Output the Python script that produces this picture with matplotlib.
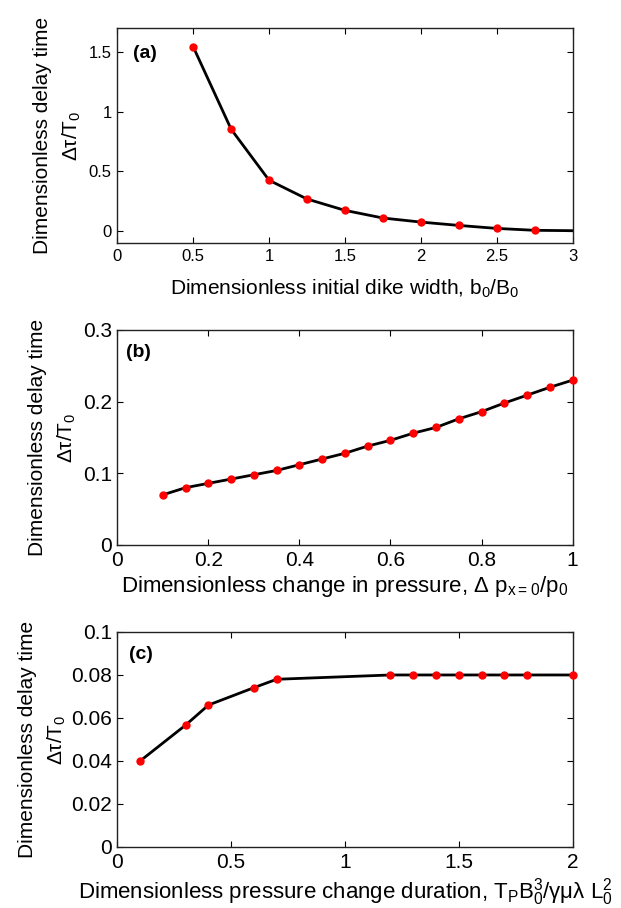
import matplotlib
matplotlib.use("Agg")
import matplotlib.pyplot as plt
import matplotlib.transforms as mtransforms

plt.rcParams['font.family'] = ['Liberation Sans', 'DejaVu Sans']
plt.rcParams['mathtext.default'] = 'regular'

# panel (a): delay time vs initial dike width
a_x = [0.5, 0.75, 1.0, 1.25, 1.5, 1.75, 2.0, 2.25, 2.5, 2.75, 3.0]
a_y = [1.542, 0.852, 0.425, 0.268, 0.173, 0.109, 0.075, 0.047, 0.022, 0.006, 0.003]
a_xticks = [0, 0.5, 1, 1.5, 2, 2.5, 3]
a_xlabels = ['0', '0.5', '1', '1.5', '2', '2.5', '3']
a_yticks = [0, 0.5, 1, 1.5]
a_ylabels = ['0', '0.5', '1', '1.5']

# panel (b): delay time vs change in pressure
b_x = [0.1, 0.15, 0.2, 0.25, 0.3, 0.35, 0.4, 0.45, 0.5, 0.55,
       0.6, 0.65, 0.7, 0.75, 0.8, 0.85, 0.9, 0.95, 1.0]
b_y = [0.070, 0.080, 0.086, 0.092, 0.098, 0.104, 0.112, 0.120, 0.128, 0.138,
       0.146, 0.156, 0.164, 0.176, 0.186, 0.198, 0.209, 0.220, 0.230]
b_xticks = [0, 0.2, 0.4, 0.6, 0.8, 1]
b_xlabels = ['0', '0.2', '0.4', '0.6', '0.8', '1']
b_yticks = [0, 0.1, 0.2, 0.3]
b_ylabels = ['0', '0.1', '0.2', '0.3']

# panel (c): delay time vs pressure change duration
c_x = [0.1, 0.3, 0.4, 0.6, 0.7, 1.2, 1.3, 1.4, 1.5, 1.6, 1.7, 1.8, 2.0]
c_y = [0.040, 0.0567, 0.066, 0.0741, 0.078, 0.080, 0.080, 0.080, 0.080,
       0.080, 0.080, 0.080, 0.080]
c_xticks = [0, 0.5, 1, 1.5, 2]
c_xlabels = ['0', '0.5', '1', '1.5', '2']
c_yticks = [0, 0.02, 0.04, 0.06, 0.08, 0.1]
c_ylabels = ['0', '0.02', '0.04', '0.06', '0.08', '0.1']

fig = plt.figure(figsize=(6.21, 9.08), dpi=100)
ax_a = fig.add_axes([0.189, 0.7324, 0.733, 0.2368])
ax_b = fig.add_axes([0.189, 0.3998, 0.733, 0.2368])
ax_c = fig.add_axes([0.189, 0.0672, 0.733, 0.2368])


def style(ax, xt, xl, yt, yl, tsize, x1, x2):
    ax.set_xticks(xt)
    ax.set_xticklabels(xl)
    ax.set_yticks(yt)
    ax.set_yticklabels(yl)
    ax.tick_params(direction='in', top=True, right=True, length=4,
                   width=0.8, labelsize=tsize, pad=4)
    for s in ax.spines.values():
        s.set_linewidth(1.0)
        s.set_color('#222222')
    # two-line y label, second line placed just inside the first
    trans = mtransforms.blended_transform_factory(fig.transFigure, ax.transAxes)
    ax.text(x1, 0.5, 'Dimensionless delay time', rotation=90, ha='center',
            va='center', fontsize=15, transform=trans)
    ax.text(x2, 0.5, r'$\Delta\tau/T_0$', rotation=90, ha='center',
            va='center', fontsize=15, transform=trans)


# (a)
ax_a.plot(a_x, a_y, color='black', lw=2.0, zorder=2)
ax_a.plot(a_x[:-1], a_y[:-1], 'o', color='#ff0000', ms=5, mec='#ff0000', zorder=3)
ax_a.set_xlim(0, 3)
ax_a.set_ylim(-0.1, 1.7)
style(ax_a, a_xticks, a_xlabels, a_yticks, a_ylabels, 12, 0.069, 0.116)
ax_a.set_xlabel(r'Dimensionless initial dike width, b$_0$/B$_0$', fontsize=15, labelpad=10)
ax_a.text(0.035, 0.88, '(a)', transform=ax_a.transAxes, fontsize=14,
          fontweight='bold', va='center')

# (b)
ax_b.plot(b_x, b_y, color='black', lw=2.0, zorder=2)
ax_b.plot(b_x, b_y, 'o', color='#ff0000', ms=5, mec='#ff0000', zorder=3, clip_on=False)
ax_b.set_xlim(0, 1)
ax_b.set_ylim(0, 0.3)
style(ax_b, b_xticks, b_xlabels, b_yticks, b_ylabels, 15, 0.060, 0.108)
ax_b.set_xlabel(r'Dimensionless change in pressure, $\Delta$ p$_{x=0}$/p$_0$', fontsize=16, labelpad=3)
ax_b.text(0.018, 0.893, '(b)', transform=ax_b.transAxes, fontsize=14,
          fontweight='bold', va='center')

# (c)
ax_c.plot(c_x, c_y, color='black', lw=2.0, zorder=2)
ax_c.plot(c_x, c_y, 'o', color='#ff0000', ms=5, mec='#ff0000', zorder=3, clip_on=False)
ax_c.set_xlim(0, 2)
ax_c.set_ylim(0, 0.1)
style(ax_c, c_xticks, c_xlabels, c_yticks, c_ylabels, 15, 0.044, 0.092)
ax_c.set_xlabel(r'Dimensionless pressure change duration, T$_P$B$_0^3$/γμλ L$_0^2$',
                fontsize=16, labelpad=3)
ax_c.text(0.026, 0.893, '(c)', transform=ax_c.transAxes, fontsize=14,
          fontweight='bold', va='center')

fig.savefig('out.png', dpi=100)
